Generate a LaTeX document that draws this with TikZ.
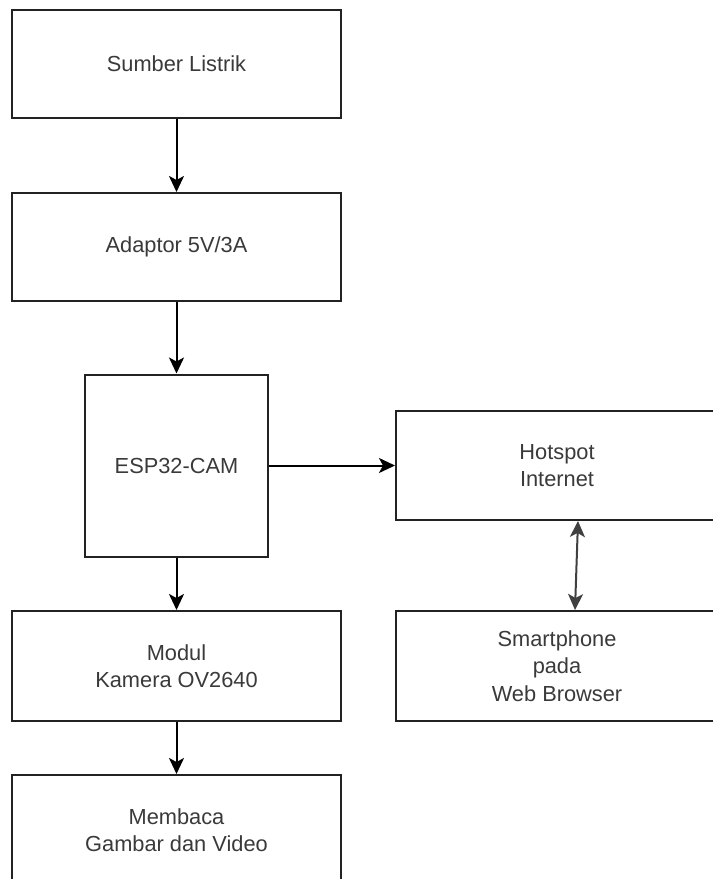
\documentclass[tikz,border=0pt]{standalone}
\usepackage{fontspec}
\setmainfont{Liberation Sans}
\usetikzlibrary{arrows.meta,calc}
\definecolor{txtgray}{HTML}{3A3A3A}
\definecolor{linegray}{HTML}{222222}
\begin{document}
\begin{tikzpicture}[x=1bp,y=-1bp,
  blockbox/.style={draw=linegray,line width=2bp,fill=white,inner sep=0pt,
    align=center,text=txtgray,font=\fontsize{21.8bp}{27.5bp}\selectfont},
  flowarrow/.style={draw=black,line width=2bp,-{Stealth[length=16bp,width=15bp,inset=4bp]}},
  biarrow/.style={draw=black!75,line width=2bp,{Stealth[length=16bp,width=15bp,inset=4bp]}-{Stealth[length=16bp,width=15bp,inset=4bp]}}
]
\useasboundingbox (0,0) rectangle (713,879);
\clip (0,0) rectangle (713,879);
\node[blockbox,minimum width=329bp,minimum height=108.5bp] (src) at (176.5,64) {Sumber Listrik};
\node[blockbox,minimum width=329bp,minimum height=108bp] (adp) at (176.5,247) {Adaptor 5V/3A};
\node[blockbox,minimum width=183bp,minimum height=182bp] (esp) at (176.5,465.5) {ESP32-CAM};
\node[blockbox,minimum width=329bp,minimum height=110bp] (cam) at (176.5,666) {Modul\\Kamera OV2640};
\node[blockbox,minimum width=329bp,minimum height=110bp] (rd) at (176.5,830) {Membaca\\Gambar dan Video};
\node[blockbox,minimum width=322bp,minimum height=109bp] (hot) at (557,465.5) {Hotspot\\Internet};
\node[blockbox,minimum width=322bp,minimum height=110bp] (sp) at (557,666) {Smartphone\\pada\\Web Browser};
\draw[flowarrow] (src.south) -- (adp.north);
\draw[flowarrow] (adp.south) -- (esp.north);
\draw[flowarrow] (esp.south) -- (cam.north);
\draw[flowarrow] (cam.south) -- (rd.north);
\draw[flowarrow] (esp.east) -- (hot.west);
\draw[biarrow] ($(hot.south)+(21,0)$) -- ($(sp.north)+(18,0)$);
\end{tikzpicture}
\end{document}
